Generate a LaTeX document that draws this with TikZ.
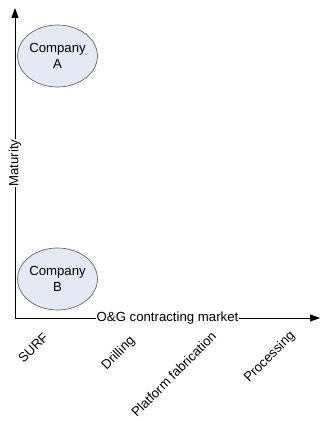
\documentclass[tikz,border=0pt]{standalone}
\usepackage{fontspec}
\setmainfont{Liberation Sans}
\usetikzlibrary{arrows.meta,shapes.geometric}
\definecolor{bubblefill}{RGB}{228,233,245}
\definecolor{bubbleline}{RGB}{100,100,100}
\begin{document}
\begin{tikzpicture}[x=1pt,y=1pt,
  font=\fontsize{13.2}{16}\selectfont,
  axis/.style={draw=black, line width=0.9pt, -{Triangle[length=10pt,width=7pt]}},
  company/.style={ellipse, draw=bubbleline, fill=bubblefill, line width=0.7pt,
    minimum width=73pt, minimum height=62pt, inner sep=0pt, align=center},
  axislabel/.style={fill=white, inner sep=1pt},
  segment/.style={anchor=east, rotate=45, inner sep=0pt}]
  \useasboundingbox (0,0) rectangle (321,421);
  % axes
  \coordinate (origin) at (15,103);
  \coordinate (ytop) at (15,413);
  \coordinate (xend) at (320,103);
  \draw[axis] (origin) -- node[axislabel, rotate=90] (ylab) {Maturity} (ytop);
  \draw[axis] (origin) -- node[axislabel] (xlab) {O\&G contracting market} (xend);
  % companies
  \node[company] (compA) at (57.5,365) {Company\\A};
  \node[company] (compB) at (57.5,142) {Company\\B};
  % market segments
  \node[segment] (surf) at (46,86) {SURF};
  \node[segment] (drill) at (133,82) {Drilling};
  \node[segment] (platform) at (214,87) {Platform fabrication};
  \node[segment] (process) at (293,87) {Processing};
\end{tikzpicture}
\end{document}
